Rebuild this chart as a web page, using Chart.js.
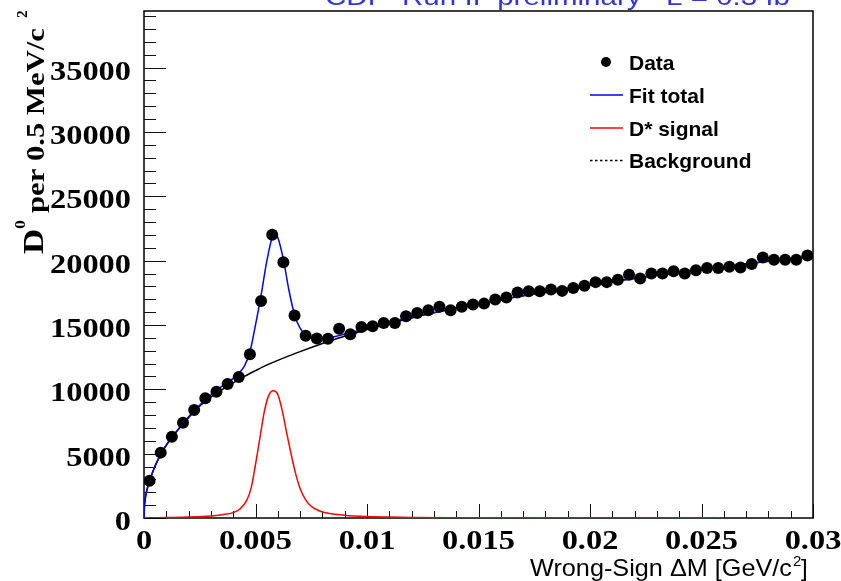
<!DOCTYPE html>
<html>
<head>
<meta charset="utf-8">
<script src="https://cdn.jsdelivr.net/npm/chart.js@4.4.1/dist/chart.umd.min.js"></script>
<style>
  html, body { margin: 0; padding: 0; background: #ffffff; }
  #wrap { width: 841px; height: 581px; position: relative; }
</style>
</head>
<body>
<div id="wrap"><canvas id="c"></canvas></div>
<script>
// ---------------- DATA ----------------
// Bin centres of the wrong-sign ΔM histogram (GeV/c^2), 0.5 MeV bins
const binCenters = [
  0.00025, 0.00075, 0.00125, 0.00175, 0.00225, 0.00275, 0.00325, 0.00375, 0.00425, 0.00475,
  0.00525, 0.00575, 0.00625, 0.00675, 0.00725, 0.00775, 0.00825, 0.00875, 0.00925, 0.00975,
  0.01025, 0.01075, 0.01125, 0.01175, 0.01225, 0.01275, 0.01325, 0.01375, 0.01425, 0.01475,
  0.01525, 0.01575, 0.01625, 0.01675, 0.01725, 0.01775, 0.01825, 0.01875, 0.01925, 0.01975,
  0.02025, 0.02075, 0.02125, 0.02175, 0.02225, 0.02275, 0.02325, 0.02375, 0.02425, 0.02475,
  0.02525, 0.02575, 0.02625, 0.02675, 0.02725, 0.02775, 0.02825, 0.02875, 0.02925, 0.02975
];
// D0 candidates per 0.5 MeV/c^2
const dataCounts = [
  2900, 5080, 6320, 7410, 8400, 9310, 9820, 10420, 10960, 12730,
  16870, 22010, 19880, 15730, 14160, 13950, 13930, 14700, 14280, 14850,
  14900, 15160, 15160, 15680, 15940, 16150, 16410, 16150, 16410, 16590,
  16660, 16980, 17130, 17520, 17630, 17630, 17750, 17650, 17880, 18040,
  18330, 18330, 18510, 18900, 18610, 19000, 19000, 19180, 19000, 19260,
  19420, 19420, 19520, 19460, 19730, 20240, 20060, 20060, 20060, 20400
];

// Fit total (blue curve)
const fitX = [0, 0.00002, 0.00005, 0.0001, 0.0002, 0.0003, 0.0005, 0.00075, 0.001, 0.0015,
  0.002, 0.0025, 0.003, 0.0035, 0.004, 0.00425, 0.0045, 0.00475, 0.005, 0.00525,
  0.0055, 0.00575, 0.0059, 0.006, 0.00625, 0.0065, 0.00675, 0.007, 0.00725, 0.0075,
  0.008, 0.0085, 0.009, 0.0095, 0.010, 0.011, 0.012, 0.013, 0.014, 0.015,
  0.016, 0.017, 0.018, 0.019, 0.020, 0.021, 0.022, 0.023, 0.024, 0.025,
  0.026, 0.027, 0.028, 0.029, 0.030];
const fitY = [0, 900, 1400, 1950, 2600, 3150, 4050, 4950, 5680, 6830,
  7870, 8770, 9560, 10250, 10850, 11250, 11800, 12900, 15000, 17300,
  19900, 21800, 22050, 21800, 20100, 17700, 15800, 14750, 14250, 14030,
  13950, 14080, 14300, 14520, 14760, 15190, 15600, 15970, 16320, 16660,
  16980, 17280, 17570, 17850, 18120, 18380, 18630, 18870, 19100, 19320,
  19535, 19745, 19955, 20155, 20355];

// D* signal (red curve)
const sigX = [0, 0.001, 0.002, 0.003, 0.0035, 0.004, 0.0043, 0.0046, 0.0048, 0.005,
  0.0052, 0.0054, 0.0056, 0.0058, 0.006, 0.0062, 0.0064, 0.0066, 0.0068, 0.007,
  0.0073, 0.0076, 0.008, 0.009, 0.010, 0.011, 0.012, 0.014, 0.017, 0.021, 0.0258];
const sigY = [0, 30, 70, 160, 260, 420, 700, 1350, 2300, 4150,
  6250, 8300, 9550, 9880, 9600, 8350, 6600, 4950, 3450, 2300,
  1270, 780, 470, 220, 110, 70, 45, 25, 12, 6, 3];

// Background (black curve)
const bgX = [0, 0.00002, 0.00005, 0.0001, 0.0002, 0.0003, 0.0005, 0.00075, 0.001, 0.0015,
  0.002, 0.0025, 0.003, 0.0035, 0.004, 0.0045, 0.005, 0.0055, 0.006, 0.0065,
  0.007, 0.0075, 0.008, 0.0085, 0.009, 0.010, 0.011, 0.012, 0.013, 0.014,
  0.015, 0.016, 0.017, 0.018, 0.019, 0.020, 0.021, 0.022, 0.023, 0.024,
  0.025, 0.026, 0.027, 0.028, 0.029, 0.030];
const bgY = [0, 900, 1400, 1950, 2600, 3150, 4050, 4950, 5650, 6800,
  7800, 8700, 9400, 9980, 10500, 11000, 11450, 11880, 12250, 12600,
  12930, 13250, 13560, 13850, 14120, 14650, 15120, 15550, 15940, 16300,
  16640, 16960, 17270, 17560, 17840, 18110, 18370, 18620, 18860, 19090,
  19310, 19530, 19740, 19950, 20150, 20350];

// Axis tick labels
const xTickValues = [0, 0.005, 0.01, 0.015, 0.02, 0.025, 0.03];
const xTickLabels = ["0", "0.005", "0.01", "0.015", "0.02", "0.025", "0.03"];
const yTickValues = [0, 5000, 10000, 15000, 20000, 25000, 30000, 35000];
const yTickLabels = ["0", "5000", "10000", "15000", "20000", "25000", "30000", "35000"];

const seriesNames = ["Data", "Fit total", "D* signal", "Background"];
const titleText = "CDF  Run II  preliminary   L = 0.3 fb";

// ---------------- helpers ----------------
function pairs(xs, ys) { return xs.map((x, i) => ({ x: x, y: ys[i] })); }

function drawStretched(ctx, text, x, y, sx, align) {
  ctx.save();
  ctx.translate(x, y);
  ctx.scale(sx, 1);
  ctx.textAlign = align || 'left';
  ctx.fillText(text, 0, 0);
  ctx.restore();
}
function drawFitted(ctx, text, x, y, width) {
  const w = ctx.measureText(text).width;
  ctx.save();
  ctx.translate(x, y);
  ctx.scale(width / w, 1);
  ctx.textAlign = 'left';
  ctx.fillText(text, 0, 0);
  ctx.restore();
}

const SERIF = '"Liberation Serif", "Times New Roman", serif';
const SANS = '"Liberation Sans", Arial, Helvetica, sans-serif';

const decor = {
  id: 'decor',
  beforeDatasetsDraw(chart) {
    const { ctx, chartArea: a, scales: { x, y } } = chart;
    ctx.save();
    // ticks (inside frame)
    ctx.strokeStyle = '#111';
    ctx.lineWidth = 1;
    for (let i = 0; i <= 39; i++) {
      const py = Math.round(y.getPixelForValue(i * 1000)) + 0.5;
      const len = (i % 5 === 0) ? 22 : 12;
      ctx.beginPath(); ctx.moveTo(a.left, py); ctx.lineTo(a.left + len, py); ctx.stroke();
    }
    for (let i = 0; i <= 30; i++) {
      const px = Math.round(x.getPixelForValue(i * 0.001)) + 0.5;
      const len = (i % 5 === 0) ? 14 : 7;
      ctx.beginPath(); ctx.moveTo(px, a.bottom); ctx.lineTo(px, a.bottom - len); ctx.stroke();
    }
    // frame
    ctx.strokeStyle = '#000';
    ctx.lineWidth = 1.5;
    ctx.strokeRect(a.left, a.top, a.right - a.left, a.bottom - a.top);
    ctx.restore();
  },
  afterDraw(chart) {
    const { ctx, chartArea: a, scales: { x, y } } = chart;
    ctx.save();
    ctx.fillStyle = '#000';
    ctx.textBaseline = 'alphabetic';
    // y tick labels
    ctx.font = 'bold 27px ' + SERIF;
    yTickValues.forEach((v, i) => {
      const py = y.getPixelForValue(v);
      drawStretched(ctx, yTickLabels[i], 131, py + 12, 1.2, 'right');
    });
    // x tick labels
    xTickValues.forEach((v, i) => {
      const px = x.getPixelForValue(v);
      drawStretched(ctx, xTickLabels[i], px, 549, 1.2, 'center');
    });

    // y axis title (rotated)
    ctx.save();
    ctx.rotate(-Math.PI / 2);
    ctx.font = 'bold 29px ' + SERIF;
    drawStretched(ctx, 'D', -254, 43, 1.2, 'left');
    ctx.font = 'bold 15px ' + SERIF;
    drawStretched(ctx, '0', -229, 25, 1.2, 'left');
    ctx.font = 'bold 25px ' + SERIF;
    drawFitted(ctx, 'per 0.5 MeV/c', -213, 44, 185);
    ctx.font = 'bold 14px ' + SERIF;
    drawStretched(ctx, '2', -18, 27, 1.1, 'left');
    ctx.restore();

    // x axis title
    ctx.font = '24px ' + SANS;
    drawFitted(ctx, 'Wrong-Sign \u0394M [GeV/c', 530, 576, 262);
    ctx.font = '15px ' + SANS;
    ctx.textAlign = 'left';
    ctx.fillText('2', 793, 566);
    ctx.font = '24px ' + SANS;
    ctx.fillText(']', 801, 576);

    // top title (cut off by the canvas edge)
    ctx.fillStyle = '#3333dd';
    ctx.font = '24px ' + SANS;
    drawFitted(ctx, titleText, 325, 5, 465);
    ctx.font = '15px ' + SANS;
    ctx.fillText('-1', 792, -8);

    // legend
    const ds = chart.data.datasets;
    ctx.font = 'bold 21px ' + SANS;
    ctx.textAlign = 'left';
    const rows = [62, 95, 128, 160.5];
    ctx.beginPath(); ctx.arc(606, rows[0], 5, 0, Math.PI * 2);
    ctx.fillStyle = ds[0].backgroundColor; ctx.fill();
    [1, 2, 3].forEach(k => {
      ctx.save();
      ctx.strokeStyle = ds[k].borderColor;
      ctx.lineWidth = 1.3;
      if (k === 3) ctx.setLineDash([2.5, 2.5]);
      ctx.beginPath(); ctx.moveTo(590, rows[k]); ctx.lineTo(623, rows[k]); ctx.stroke();
      ctx.restore();
    });
    ctx.fillStyle = '#000';
    ds.forEach((d, k) => { ctx.fillText(d.label, 629, rows[k] + 7.5); });
    ctx.restore();
  }
};

const lineCommon = {
  showLine: true, pointRadius: 0, pointHoverRadius: 0, fill: false,
  cubicInterpolationMode: 'monotone', borderWidth: 1.5
};

new Chart(document.getElementById('c'), {
  type: 'scatter',
  data: {
    datasets: [
      { label: seriesNames[0], data: pairs(binCenters, dataCounts),
        pointRadius: 6, pointHoverRadius: 6, backgroundColor: '#000000', borderColor: '#000000', borderWidth: 0, showLine: false },
      Object.assign({ label: seriesNames[1], data: pairs(fitX, fitY), borderColor: '#0000ff', backgroundColor: '#0000ff' }, lineCommon),
      Object.assign({ label: seriesNames[2], data: pairs(sigX, sigY), borderColor: '#ff0000', backgroundColor: '#ff0000' }, lineCommon),
      Object.assign({ label: seriesNames[3], data: pairs(bgX, bgY), borderColor: '#000000', backgroundColor: '#000000', borderWidth: 1.3 }, lineCommon)
    ]
  },
  options: {
    responsive: true,
    maintainAspectRatio: false,
    animation: false,
    devicePixelRatio: 1,
    layout: { padding: { left: 144, right: 28, top: 11, bottom: 63 } },
    plugins: { legend: { display: false }, tooltip: { enabled: false }, title: { display: false } },
    scales: {
      x: { type: 'linear', min: 0, max: 0.03, display: false },
      y: { type: 'linear', min: 0, max: 39400, display: false }
    }
  },
  plugins: [decor]
});
</script>
</body>
</html>
